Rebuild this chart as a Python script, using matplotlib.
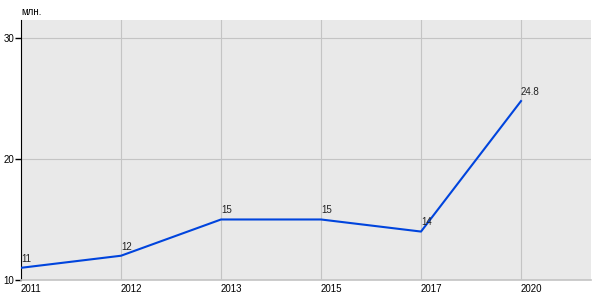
import matplotlib
matplotlib.use("Agg")
import matplotlib.pyplot as plt

years = ["2011", "2012", "2013", "2015", "2017", "2020"]
values = [11, 12, 15, 15, 14, 24.8]
value_labels = ["11", "12", "15", "15", "14", "24.8"]
yticks = [10, 20, 30]

plt.rcParams['font.family'] = ['Liberation Sans', 'DejaVu Sans']

fig = plt.figure(figsize=(6, 3), dpi=100)
ax = fig.add_axes([0.035, 0.067, 0.95, 0.866])
ax.set_facecolor("#e9e9e9")

x = list(range(len(years)))
ax.plot(x, values, color="#0044dd", lw=1.5, zorder=3)
for xi, v, lab in zip(x, values, value_labels):
    ax.annotate(lab, (xi, v), xytext=(0, 3), textcoords="offset points",
                fontsize=7, ha="left", va="bottom", color="#222222")

ax.set_xlim(0, 5.7)
ax.set_ylim(10, 31.5)
ax.set_xticks(x)
ax.set_xticklabels(years, ha="left", fontsize=7)
ax.set_yticks(yticks)
ax.tick_params(axis="y", labelsize=7, length=4, width=1, pad=1, color="black")
ax.tick_params(axis="x", length=0, pad=3)
ax.grid(True, color="#c4c4c4", lw=0.8)
ax.set_axisbelow(True)
for s in ["top", "right"]:
    ax.spines[s].set_visible(False)
ax.spines["left"].set_color("black")
ax.spines["bottom"].set_color("#c4c4c4")
ax.spines["bottom"].set_linewidth(1.2)

fig.text(0.035, 0.943, "млн.", fontsize=7, ha="left", va="bottom")

fig.savefig("out.png", dpi=100)
